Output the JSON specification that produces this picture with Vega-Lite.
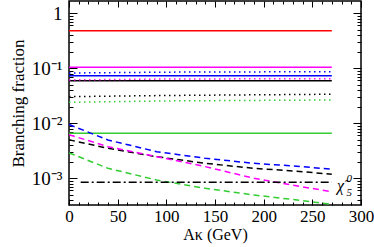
{
  "$schema": "https://vega.github.io/schema/vega-lite/v6.json",
  "width": 292,
  "height": 204,
  "autosize": {"type": "none"},
  "padding": {"left": 69, "top": 1, "right": 13, "bottom": 42},
  "background": "white",
  "config": {
    "view": {"stroke": "black", "strokeWidth": 1.5},
    "axis": {"grid": false, "domain": false, "tickColor": "black", "tickWidth": 1, "labelFont": "Liberation Serif", "titleFont": "Liberation Serif", "labelFontSize": 17, "titleFontSize": 16, "labelColor": "black", "titleColor": "black", "titleFontWeight": "normal"}
  },
  "datasets": {
    "lines": [
      {"k": "r-s", "c": "red", "s": "solid", "x": 0, "y": 0.48},
      {"k": "r-s", "c": "red", "s": "solid", "x": 270, "y": 0.48},
      {"k": "m-s", "c": "magenta", "s": "solid", "x": 0, "y": 0.104},
      {"k": "m-s", "c": "magenta", "s": "solid", "x": 270, "y": 0.104},
      {"k": "b-s", "c": "blue", "s": "solid", "x": 0, "y": 0.0733},
      {"k": "b-s", "c": "blue", "s": "solid", "x": 270, "y": 0.0733},
      {"k": "k-s", "c": "black", "s": "solid", "x": 0, "y": 0.0595},
      {"k": "k-s", "c": "black", "s": "solid", "x": 270, "y": 0.0595},
      {"k": "g-s", "c": "green", "s": "solid", "x": 0, "y": 0.00658},
      {"k": "g-s", "c": "green", "s": "solid", "x": 270, "y": 0.00658},
      {"k": "b-o", "c": "blue", "s": "dotted", "x": 0, "y": 0.082},
      {"k": "b-o", "c": "blue", "s": "dotted", "x": 100, "y": 0.085},
      {"k": "b-o", "c": "blue", "s": "dotted", "x": 270, "y": 0.0867},
      {"k": "m-o", "c": "magenta", "s": "dotted", "x": 0, "y": 0.0613},
      {"k": "m-o", "c": "magenta", "s": "dotted", "x": 100, "y": 0.0638},
      {"k": "m-o", "c": "magenta", "s": "dotted", "x": 270, "y": 0.0647},
      {"k": "k-o", "c": "black", "s": "dotted", "x": 0, "y": 0.0305},
      {"k": "k-o", "c": "black", "s": "dotted", "x": 100, "y": 0.032},
      {"k": "k-o", "c": "black", "s": "dotted", "x": 270, "y": 0.0337},
      {"k": "g-o", "c": "green", "s": "dotted", "x": 0, "y": 0.0241},
      {"k": "g-o", "c": "green", "s": "dotted", "x": 100, "y": 0.0255},
      {"k": "g-o", "c": "green", "s": "dotted", "x": 270, "y": 0.0265},
      {"k": "b-d", "c": "blue", "s": "dashed", "x": 0, "y": 0.0095},
      {"k": "b-d", "c": "blue", "s": "dashed", "x": 40, "y": 0.00497},
      {"k": "b-d", "c": "blue", "s": "dashed", "x": 90, "y": 0.00305},
      {"k": "b-d", "c": "blue", "s": "dashed", "x": 140, "y": 0.00231},
      {"k": "b-d", "c": "blue", "s": "dashed", "x": 190, "y": 0.00187},
      {"k": "b-d", "c": "blue", "s": "dashed", "x": 240, "y": 0.00163},
      {"k": "b-d", "c": "blue", "s": "dashed", "x": 270, "y": 0.00146},
      {"k": "k-d", "c": "black", "s": "dashed", "x": 0, "y": 0.0050},
      {"k": "k-d", "c": "black", "s": "dashed", "x": 40, "y": 0.00351},
      {"k": "k-d", "c": "black", "s": "dashed", "x": 90, "y": 0.00247},
      {"k": "k-d", "c": "black", "s": "dashed", "x": 140, "y": 0.00187},
      {"k": "k-d", "c": "black", "s": "dashed", "x": 190, "y": 0.00152},
      {"k": "k-d", "c": "black", "s": "dashed", "x": 240, "y": 0.00132},
      {"k": "k-d", "c": "black", "s": "dashed", "x": 270, "y": 0.00118},
      {"k": "m-d", "c": "magenta", "s": "dashed", "x": 0, "y": 0.0062},
      {"k": "m-d", "c": "magenta", "s": "dashed", "x": 40, "y": 0.00376},
      {"k": "m-d", "c": "magenta", "s": "dashed", "x": 90, "y": 0.00247},
      {"k": "m-d", "c": "magenta", "s": "dashed", "x": 140, "y": 0.00163},
      {"k": "m-d", "c": "magenta", "s": "dashed", "x": 190, "y": 0.0010},
      {"k": "m-d", "c": "magenta", "s": "dashed", "x": 240, "y": 0.00070},
      {"k": "m-d", "c": "magenta", "s": "dashed", "x": 270, "y": 0.00057},
      {"k": "g-d", "c": "green", "s": "dashed", "x": 0, "y": 0.0029},
      {"k": "g-d", "c": "green", "s": "dashed", "x": 40, "y": 0.00152},
      {"k": "g-d", "c": "green", "s": "dashed", "x": 90, "y": 0.00093},
      {"k": "g-d", "c": "green", "s": "dashed", "x": 140, "y": 0.000658},
      {"k": "g-d", "c": "green", "s": "dashed", "x": 190, "y": 0.000497},
      {"k": "g-d", "c": "green", "s": "dashed", "x": 240, "y": 0.000392},
      {"k": "g-d", "c": "green", "s": "dashed", "x": 270, "y": 0.000337},
      {"k": "k-dd", "c": "black", "s": "dashdot", "x": 12, "y": 0.00085},
      {"k": "k-dd", "c": "black", "s": "dashdot", "x": 270, "y": 0.00085}
    ],
    "ann": [
      {"t": "χ̃", "x": 279, "y": 0.00072, "sz": 16},
      {"t": "0", "x": 288, "y": 0.00098, "sz": 11},
      {"t": "5", "x": 288, "y": 0.00053, "sz": 11}
    ]
  },
  "layer": [
    {
      "data": {"name": "lines"},
      "mark": {"type": "line", "strokeWidth": 1.5, "clip": true},
      "encoding": {
        "x": {"field": "x", "type": "quantitative", "scale": {"domain": [0, 300], "nice": false, "zero": false},
          "axis": {"orient": "bottom", "values": [0, 50, 100, 150, 200, 250, 300], "tickSize": -6, "labelPadding": 9, "title": "Aκ (GeV)", "titlePadding": 2, "labelFlush": false}},
        "y": {"field": "y", "type": "quantitative", "scale": {"type": "log", "domain": [0.000327, 1.67], "nice": false},
          "axis": {"orient": "left", "values": [0.001, 0.01, 0.1, 1], "tickSize": -8, "labelPadding": 15, "labelFontSize": 19,
            "labelExpr": "datum.value >= 0.99 ? '1' : datum.value >= 0.099 ? '10⁻¹' : datum.value >= 0.0099 ? '10⁻²' : '10⁻³'",
            "title": "Branching fraction", "titleFontSize": 17, "titlePadding": 4}},
        "color": {"field": "c", "type": "nominal", "legend": null,
          "scale": {"domain": ["red", "magenta", "blue", "black", "green"], "range": ["#ff0000", "#ff00ff", "#0000ff", "#000000", "#33cc33"]}},
        "strokeDash": {"field": "s", "type": "nominal", "legend": null,
          "scale": {"domain": ["solid", "dashed", "dotted", "dashdot"], "range": [[1, 0], [6, 4], [1.5, 3.5], [8, 3, 2, 3]]}},
        "detail": {"field": "k"}
      }
    },
    {
      "data": {"name": "ann"},
      "mark": {"type": "text", "font": "Liberation Serif", "fontStyle": "italic", "color": "black", "align": "center", "baseline": "middle"},
      "encoding": {
        "x": {"field": "x", "type": "quantitative",
          "axis": {"orient": "bottom", "values": [10, 20, 30, 40, 60, 70, 80, 90, 110, 120, 130, 140, 160, 170, 180, 190, 210, 220, 230, 240, 260, 270, 280, 290], "tickSize": -3, "labels": false, "title": null}},
        "y": {"field": "y", "type": "quantitative",
          "axis": {"orient": "left", "values": [0.0004, 0.0005, 0.0006, 0.0007, 0.0008, 0.0009, 0.002, 0.003, 0.004, 0.005, 0.006, 0.007, 0.008, 0.009, 0.02, 0.03, 0.04, 0.05, 0.06, 0.07, 0.08, 0.09, 0.2, 0.3, 0.4, 0.5, 0.6, 0.7, 0.8, 0.9], "tickSize": -4, "labels": false, "title": null}},
        "text": {"field": "t"},
        "size": {"field": "sz", "type": "quantitative", "scale": null}
      }
    },
    {
      "data": {"name": "ann"},
      "mark": {"type": "point", "opacity": 0},
      "encoding": {
        "x": {"field": "x", "type": "quantitative",
          "axis": {"orient": "top", "values": [0, 50, 100, 150, 200, 250, 300], "tickSize": -6, "labels": false, "title": null}},
        "y": {"field": "y", "type": "quantitative",
          "axis": {"orient": "right", "values": [0.001, 0.01, 0.1, 1], "tickSize": -8, "labels": false, "title": null}}
      }
    },
    {
      "data": {"name": "ann"},
      "mark": {"type": "point", "opacity": 0},
      "encoding": {
        "x": {"field": "x", "type": "quantitative",
          "axis": {"orient": "top", "values": [10, 20, 30, 40, 60, 70, 80, 90, 110, 120, 130, 140, 160, 170, 180, 190, 210, 220, 230, 240, 260, 270, 280, 290], "tickSize": -3, "labels": false, "title": null}},
        "y": {"field": "y", "type": "quantitative",
          "axis": {"orient": "right", "values": [0.0004, 0.0005, 0.0006, 0.0007, 0.0008, 0.0009, 0.002, 0.003, 0.004, 0.005, 0.006, 0.007, 0.008, 0.009, 0.02, 0.03, 0.04, 0.05, 0.06, 0.07, 0.08, 0.09, 0.2, 0.3, 0.4, 0.5, 0.6, 0.7, 0.8, 0.9], "tickSize": -4, "labels": false, "title": null}}
      }
    }
  ],
  "resolve": {"axis": {"x": "independent", "y": "independent"}}
}
